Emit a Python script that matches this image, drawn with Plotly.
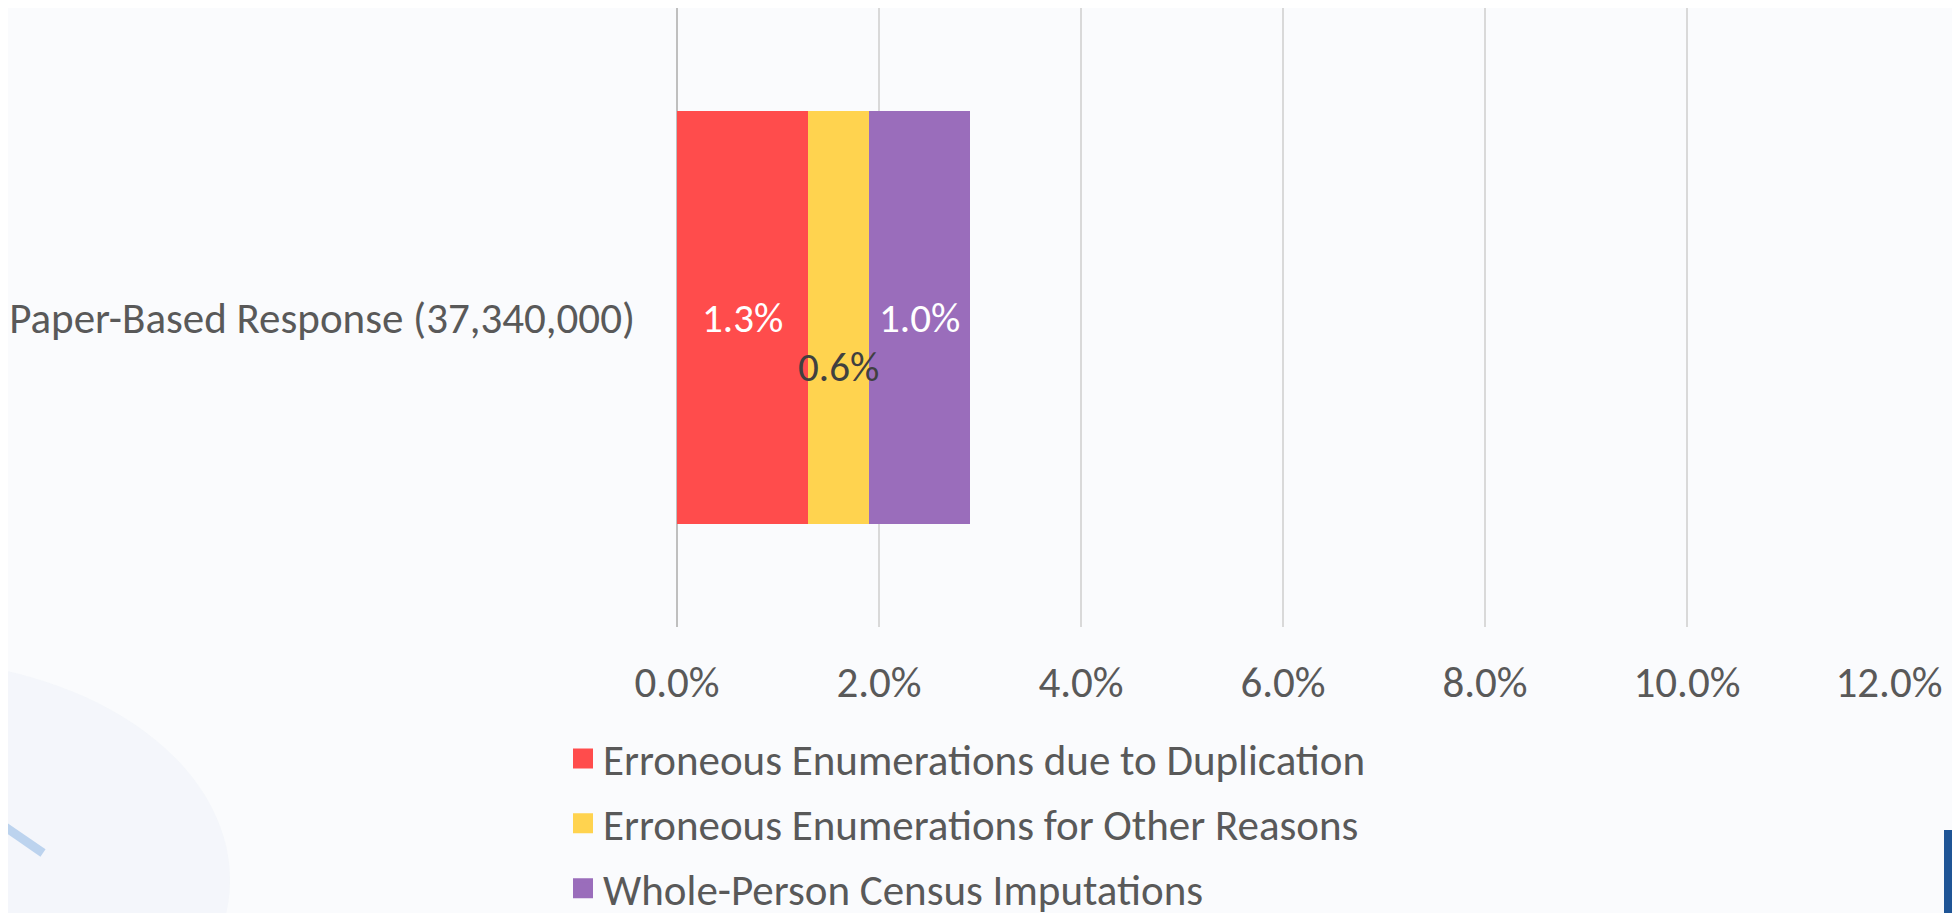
import plotly.graph_objects as go

categories = ["Paper-Based Response (37,340,000)"]
series_names = [
    "Erroneous Enumerations due to Duplication",
    "Erroneous Enumerations for Other Reasons",
    "Whole-Person Census Imputations",
]
series_values = [[1.3], [0.6], [1.0]]
series_colors = ["#FF4C4C", "#FFD34F", "#9A6DBB"]
label_colors = ["#FFFFFF", "#404040", "#FFFFFF"]
label_yshift = [0, -49, 0]
tick_vals = [0, 2, 4, 6, 8, 10, 12]
tick_text = ["0.0%", "2.0%", "4.0%", "6.0%", "8.0%", "10.0%", "12.0%"]

FONT = "Calibri, Carlito, sans-serif"
FS = 43
W, H = 1952, 905
ML, MR, MT, MB = 669, 71, 0, 286
PW, PH = W - ML - MR, H - MT - MB


def px(xf):
    return (xf - ML) / PW


def py(yf):
    return (MT + PH - yf) / PH


fig = go.Figure()
for i, name in enumerate(series_names):
    fig.add_trace(go.Bar(
        x=series_values[i], y=categories, orientation="h", name=name,
        marker=dict(color=series_colors[i], line=dict(width=0)),
        legendgroup="g%d" % i, showlegend=False, hoverinfo="x+name",
    ))
    fig.add_trace(go.Scatter(
        x=[None], y=[None], mode="markers", name=name,
        marker=dict(symbol="square", size=16, color=series_colors[i],
                    line=dict(color=series_colors[i], width=4)),
        legendgroup="g%d" % i, showlegend=True,
    ))

# data labels centred on each segment
cum = [0.0] * len(categories)
annotations = []
for i, vals in enumerate(series_values):
    for j, v in enumerate(vals):
        annotations.append(dict(
            x=cum[j] + v / 2, y=categories[j], xref="x", yref="y",
            text="%.1f%%" % v, showarrow=False, yshift=label_yshift[i],
            font=dict(family=FONT, size=41, color=label_colors[i]),
        ))
        cum[j] += v

shapes = [
    # faint large circle on the left
    dict(type="circle", xref="paper", yref="paper", x0=px(-428), x1=px(222),
         y0=py(1092), y1=py(652), fillcolor="rgba(232,239,247,0.35)",
         line=dict(width=0), layer="below"),
    # pale blue stroke bottom-left
    dict(type="line", xref="paper", yref="paper", x0=px(-10), y0=py(814),
         x1=px(35), y1=py(845), line=dict(color="#BCD3EE", width=9), layer="below"),
    # blue bar bottom-right (slide decoration)
    dict(type="rect", xref="paper", yref="paper", x0=px(1936), x1=px(W),
         y0=py(H), y1=py(822), fillcolor="#1F5596", line=dict(width=0), layer="below"),
]

fig.update_layout(
    width=W, height=H,
    paper_bgcolor="#FAFBFD", plot_bgcolor="rgba(0,0,0,0)",
    margin=dict(l=ML, r=MR, t=MT, b=MB, pad=0, autoexpand=False),
    barmode="stack", bargap=0.333,
    font=dict(family=FONT, size=FS, color="#595959"),
    annotations=annotations, shapes=shapes,
    showlegend=True,
    legend=dict(
        orientation="v", x=px(555), xanchor="left", y=py(716), yanchor="top",
        bgcolor="rgba(0,0,0,0)", font=dict(family=FONT, size=FS, color="#595959"),
        tracegroupgap=6, itemwidth=30,
    ),
    xaxis=dict(
        range=[0, 12], tickvals=tick_vals, ticktext=tick_text,
        showgrid=True, gridcolor="#D9D9D9", gridwidth=1.5,
        zeroline=True, zerolinecolor="#BFBFBF", zerolinewidth=1.5,
        showline=False, ticks="", ticklabelstandoff=26,
        tickfont=dict(family=FONT, size=FS, color="#595959"), fixedrange=True,
    ),
    yaxis=dict(
        showgrid=False, zeroline=False, showline=False, ticks="",
        ticklabelstandoff=41,
        tickfont=dict(family=FONT, size=FS, color="#595959"), fixedrange=True,
    ),
)

fig.write_html("out.html")
